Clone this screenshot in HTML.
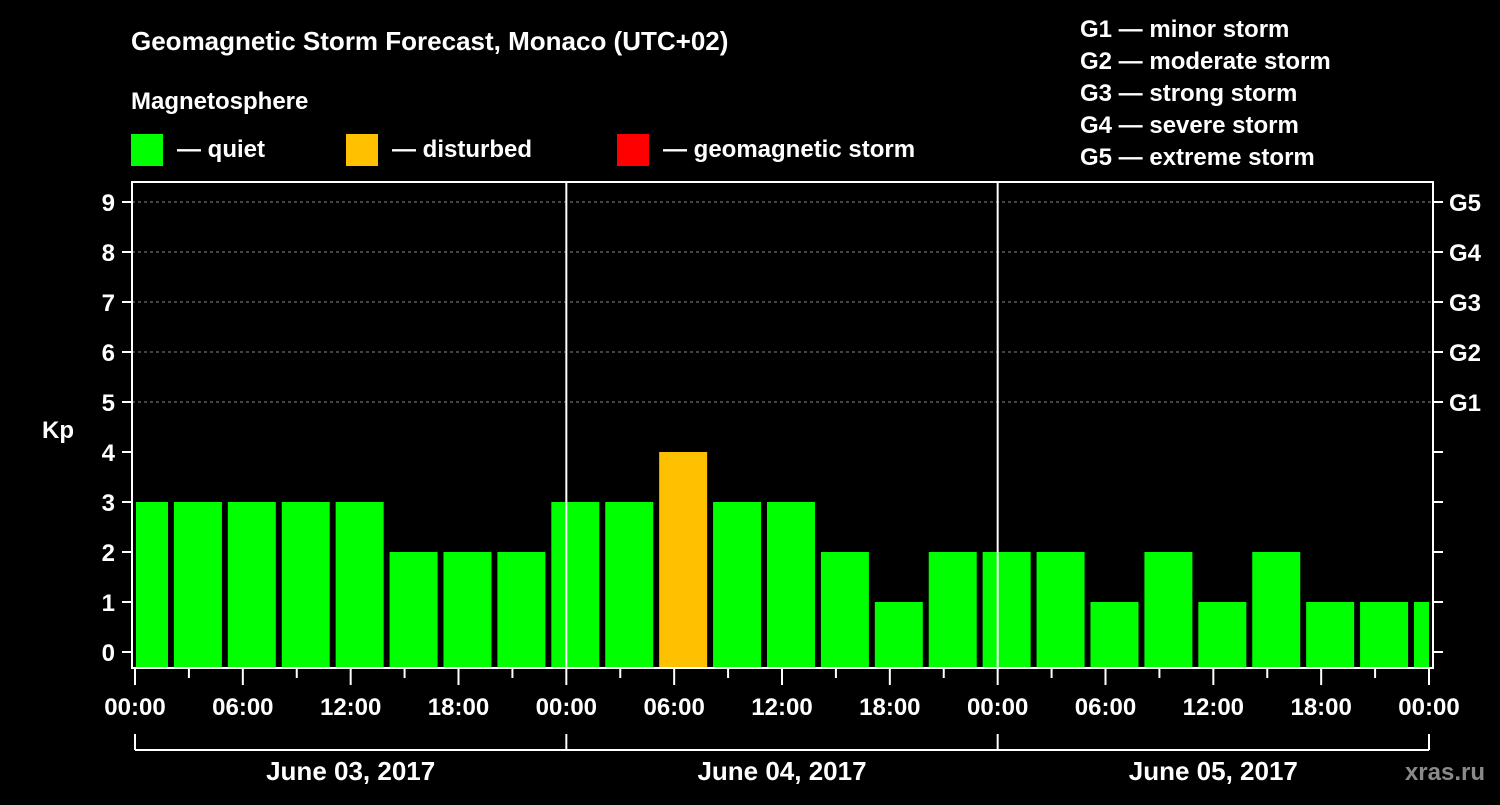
<!DOCTYPE html>
<html><head><meta charset="utf-8"><style>
body{margin:0;background:#000;width:1500px;height:800px;overflow:hidden}
svg text{font-family:"Liberation Sans",Arial,sans-serif;font-weight:bold;fill:#fff}
</style></head><body>
<svg id="c" width="1500" height="800" xmlns="http://www.w3.org/2000/svg">
<rect width="1500" height="800" fill="#000"/>
<text x="131" y="50" font-size="26">Geomagnetic Storm Forecast, Monaco (UTC+02)</text>
<text x="131" y="109" font-size="24">Magnetosphere</text>
<rect x="131" y="134" width="32" height="32" fill="#00ff00"/>
<text x="177" y="157" font-size="24">— quiet</text>
<rect x="346" y="134" width="32" height="32" fill="#ffc000"/>
<text x="392" y="157" font-size="24">— disturbed</text>
<rect x="617" y="134" width="32" height="32" fill="#ff0000"/>
<text x="663" y="157" font-size="24">— geomagnetic storm</text>
<g font-size="24">
<text x="1080" y="37">G1 — minor storm</text>
<text x="1080" y="69">G2 — moderate storm</text>
<text x="1080" y="101">G3 — strong storm</text>
<text x="1080" y="133">G4 — severe storm</text>
<text x="1080" y="165">G5 — extreme storm</text>
</g>
<text x="42" y="438" font-size="24">Kp</text>
<text x="1485" y="780" font-size="24" text-anchor="end" fill="#888" style="fill:#8a8a8a">xras.ru</text>
<g id="plot"></g>
</svg>
<script>
const kpValues=[3,3,3,3,3,2,2,2,3,3,4,3,3,2,1,2,2,2,1,2,1,2,1,1,1];
const yTicks=[0,1,2,3,4,5,6,7,8,9];
const gLabels=["G1","G2","G3","G4","G5"];
const xTickLabels=["00:00","06:00","12:00","18:00","00:00","06:00","12:00","18:00","00:00","06:00","12:00","18:00","00:00"];
const dayLabels=["June 03, 2017","June 04, 2017","June 05, 2017"];
const L=132,R=1433,T=182,B=668,H0=135,H72=1429;
const xs=h=>H0+(H72-H0)*h/72;
const ys=v=>652-50*v;
const NS="http://www.w3.org/2000/svg";
const g=document.getElementById('plot');
function mk(t,a){const e=document.createElementNS(NS,t);for(const k in a)e.setAttribute(k,a[k]);g.appendChild(e);return e;}
// grid
yTicks.forEach(v=>{if(v>=5){const l=mk('line',{x1:L,x2:R,y1:ys(v),y2:ys(v),stroke:'#888','stroke-dasharray':'3,3','stroke-width':1});

}});
// bars
kpValues.forEach((v,i)=>{const c=xs(0.5+3*i);let x0=Math.max(c-24,L+4),x1=Math.min(c+24,H72);
const r=mk('rect',{x:x0,y:ys(v),width:x1-x0,height:B-ys(v),fill:v>=5?'#ff0000':v>=4?'#ffc000':'#00ff00'});

});
// day lines
[24,48].forEach(h=>{const l=mk('line',{x1:xs(h),x2:xs(h),y1:T,y2:B,stroke:'#fff','stroke-width':2});

});
// frame
const f=mk('rect',{x:L,y:T,width:R-L,height:B-T,fill:'none',stroke:'#fff','stroke-width':2});


// y ticks
yTicks.forEach(v=>{mk('line',{x1:L-10,x2:L,y1:ys(v),y2:ys(v),stroke:'#fff','stroke-width':2});mk('line',{x1:R,x2:R+10,y1:ys(v),y2:ys(v),stroke:'#fff','stroke-width':2});
const t=mk('text',{x:115,y:ys(v)+9,'font-size':24,'text-anchor':'end'});t.textContent=v;

});
gLabels.forEach((s,i)=>{const t=mk('text',{x:1449,y:ys(5+i)+9,'font-size':24});t.textContent=s;

});
// x ticks
for(let h=0;h<=72;h+=3){const maj=h%6===0;mk('line',{x1:xs(h),x2:xs(h),y1:B,y2:B+(maj?17:10),stroke:'#fff','stroke-width':2});}
xTickLabels.forEach((s,i)=>{const t=mk('text',{x:xs(6*i),y:715,'font-size':24,'text-anchor':'middle'});t.textContent=s;

});
// day bracket
mk('line',{x1:xs(0),x2:xs(72),y1:750,y2:750,stroke:'#fff','stroke-width':2});
[0,24,48,72].forEach(h=>mk('line',{x1:xs(h),x2:xs(h),y1:734,y2:750,stroke:'#fff','stroke-width':2}));
dayLabels.forEach((s,i)=>{const t=mk('text',{x:xs(12+24*i),y:780,'font-size':26,'text-anchor':'middle'});t.textContent=s;

});
</script>
</body></html>
